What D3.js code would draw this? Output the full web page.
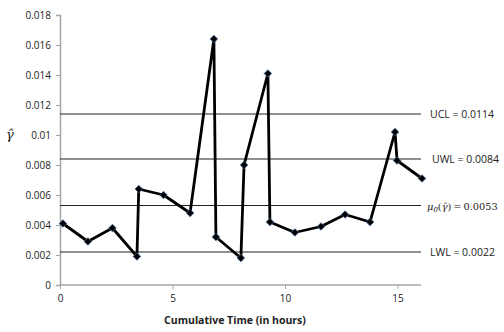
<!DOCTYPE html>
<html><head><meta charset="utf-8">
<script src="https://cdn.jsdelivr.net/npm/d3@7"></script>
<style>body{margin:0;background:#fff}svg{display:block}</style>
</head><body><svg id="c" width="504" height="332"></svg>
<script>
const times  = [0.13,1.24,2.33,3.42,3.5,4.6,5.78,6.84,6.93,8.04,8.18,9.24,9.33,10.44,11.6,12.67,13.78,14.89,14.98,16.09];
const values = [0.0041,0.0029,0.0038,0.0019,0.0064,0.0060,0.0048,0.0164,0.0032,0.0018,0.0080,0.0141,0.0042,0.0035,0.0039,0.0047,0.0042,0.0102,0.0083,0.0071];
const limitNames  = ["UCL","UWL","mu","LWL"];
const limitValues = [0.0114,0.0084,0.0053,0.0022];
const yTicks = [0,0.002,0.004,0.006,0.008,0.01,0.012,0.014,0.016,0.018];
const yTickLabels = ["0","0.002","0.004","0.006","0.008","0.01","0.012","0.014","0.016","0.018"];
const xTicks = [0,5,10,15];

const svg = d3.select("#c");
const x = d3.scaleLinear().domain([0,16]).range([60,420]);
const y = d3.scaleLinear().domain([0,0.018]).range([285,15]);
const font = "'Open Sans', 'Liberation Sans', sans-serif";

// axes
const ya = svg.append("g").attr("transform","translate(60,0)")
  .call(d3.axisLeft(y).tickValues(yTicks).tickFormat((d,i)=>yTickLabels[i]).tickSize(4).tickPadding(5));
const xa = svg.append("g").attr("transform","translate(0,285)")
  .call(d3.axisBottom(x).tickValues(xTicks).tickSize(4).tickPadding(6));
[ya,xa].forEach(g=>{
  g.select(".domain").attr("stroke","#a6a6a6").attr("stroke-width",1.5);
  g.selectAll(".tick line").attr("stroke","#a6a6a6");
  g.selectAll("text").attr("font-family",font).attr("font-size",10).attr("fill","#222");
});
xa.select(".domain").attr("d","M60,0H421");

// limit lines
svg.append("g").selectAll("line").data(limitValues).join("line")
  .attr("x1",x(0)).attr("x2",421).attr("y1",d=>y(d)).attr("y2",d=>y(d))
  .attr("stroke","#222").attr("stroke-width",1.2);

// labels
const lab = svg.append("g").attr("font-family",font).attr("font-size",10.5).attr("fill","#222");
limitNames.forEach((n,i)=>{
  const t = lab.append("text").attr("y",y(limitValues[i])+4);
  if(n==="mu"){
    t.attr("x",427).attr("font-family","'DejaVu Serif', 'Liberation Serif', serif").attr("font-size",9.8);
    t.append("tspan").attr("font-style","italic").text("μ");
    t.append("tspan").attr("font-size",7).attr("dy",2).attr("font-style","italic").text("0");
    t.append("tspan").attr("dy",-2).text("(");
    t.append("tspan").attr("font-style","italic").text("γ̂");
    t.append("tspan").text(")\u2009=\u2009" + limitValues[i]);
  } else {
    t.attr("x", n==="UWL"?432:430).text(n + " = " + limitValues[i]);
  }
});

// series line
const pts = times.map((t,i)=>[t,values[i]]);
svg.append("path").datum(pts)
  .attr("d",d3.line().x(d=>x(d[0])).y(d=>y(d[1])))
  .attr("fill","none").attr("stroke","#000").attr("stroke-width",2.8).attr("stroke-linejoin","round");
svg.append("g").selectAll("path").data(pts).join("path")
  .attr("d",d3.symbol(d3.symbolSquare,28))
  .attr("transform",d=>`translate(${x(d[0])},${y(d[1])}) rotate(45)`)
  .attr("fill","#000").attr("stroke","#3a5f8a").attr("stroke-width",0.8);

// axis titles
svg.append("text").attr("x",x(8)-5).attr("y",324).attr("text-anchor","middle")
  .attr("font-family",font).attr("font-size",10.5).attr("font-weight","bold").attr("fill","#222")
  .text("Cumulative Time (in hours)");
svg.append("text").attr("x",10).attr("y",139).attr("text-anchor","middle")
  .attr("font-family","'DejaVu Serif', serif").attr("font-style","italic").attr("font-size",13).attr("fill","#222")
  .text("γ̂");
</script></body></html>
